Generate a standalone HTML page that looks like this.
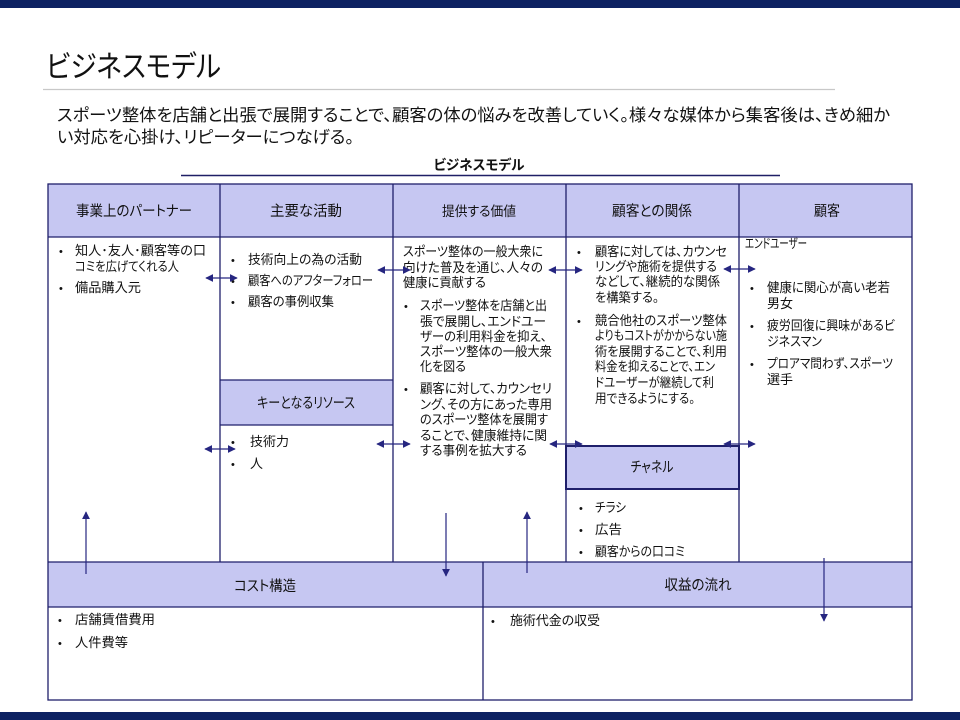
<!DOCTYPE html>
<html><head><meta charset="utf-8"><style>
html,body{margin:0;padding:0;background:#fff;}
svg{display:block;}
text{font-family:"Liberation Sans","Noto Sans CJK JP",sans-serif;fill:#111;font-feature-settings:"palt";}
.b{font-size:13px;}
.h{font-size:14.5px;}
.d{font-size:11px;}
</style></head><body>
<svg width="960" height="720" viewBox="0 0 960 720" xmlns="http://www.w3.org/2000/svg">
<defs>
<marker id="ah" viewBox="0 0 10 10" refX="9" refY="5" markerWidth="8" markerHeight="8" markerUnits="userSpaceOnUse" orient="auto-start-reverse">
<path d="M0,0 L10,5 L0,10 z" fill="#262680"/>
</marker>
</defs>
<!-- bars -->
<rect x="0" y="0" width="960" height="8" fill="#0d2262"/>
<rect x="0" y="712" width="960" height="8" fill="#0d2262"/>

<!-- title -->
<text x="46" y="77" style="font-size:30px" textLength="175" lengthAdjust="spacingAndGlyphs">ビジネスモデル</text>
<line x1="43" y1="89.5" x2="835" y2="89.5" stroke="#c8c8c8" stroke-width="1.2"/>

<text x="57" y="121" style="font-size:17px" textLength="833" lengthAdjust="spacingAndGlyphs">スポーツ整体を店舗と出張で展開することで、顧客の体の悩みを改善していく。様々な媒体から集客後は、きめ細か</text>
<text x="57" y="143" style="font-size:17px" textLength="297" lengthAdjust="spacingAndGlyphs">い対応を心掛け、リピーターにつなげる。</text>

<text x="479" y="170" text-anchor="middle" style="font-size:14px;font-weight:bold" textLength="91" lengthAdjust="spacingAndGlyphs">ビジネスモデル</text>
<line x1="181" y1="175.5" x2="780" y2="175.5" stroke="#1f1f66" stroke-width="1.4"/>

<!-- fills -->
<rect x="48" y="184" width="864" height="53" fill="#c6c7f2"/>
<rect x="220" y="380" width="173" height="45" fill="#c6c7f2"/>
<rect x="566" y="446" width="173" height="43" fill="#c6c7f2"/>
<rect x="48" y="562" width="864" height="45" fill="#c6c7f2"/>

<!-- grid lines -->
<g stroke="#1f1f6b" stroke-width="1.3" fill="none">
<rect x="48" y="184" width="864" height="516"/>
<line x1="48" y1="237" x2="912" y2="237"/>
<line x1="220" y1="184" x2="220" y2="562"/>
<line x1="393" y1="184" x2="393" y2="562"/>
<line x1="566" y1="184" x2="566" y2="562"/>
<line x1="739" y1="184" x2="739" y2="562"/>
<line x1="220" y1="380" x2="393" y2="380"/>
<line x1="220" y1="425" x2="393" y2="425"/>
<line x1="48" y1="562" x2="912" y2="562"/>
<line x1="48" y1="607" x2="912" y2="607"/>
<line x1="483" y1="562" x2="483" y2="700"/>
<rect x="566" y="446" width="173" height="43" stroke-width="2"/>
</g>

<!-- headers -->
<text class="h" x="134" y="216" text-anchor="middle" textLength="116" lengthAdjust="spacingAndGlyphs">事業上のパートナー</text>
<text class="h" x="306" y="216" text-anchor="middle" textLength="72" lengthAdjust="spacingAndGlyphs">主要な活動</text>
<text x="479" y="216" text-anchor="middle" style="font-size:13.5px" textLength="74" lengthAdjust="spacingAndGlyphs">提供する価値</text>
<text class="h" x="652" y="216" text-anchor="middle" textLength="80" lengthAdjust="spacingAndGlyphs">顧客との関係</text>
<text class="h" x="827" y="216" text-anchor="middle" textLength="26" lengthAdjust="spacingAndGlyphs">顧客</text>
<text class="h" x="306" y="408" text-anchor="middle" textLength="98" lengthAdjust="spacingAndGlyphs">キーとなるリソース</text>
<text class="h" x="652" y="472" text-anchor="middle" textLength="43" lengthAdjust="spacingAndGlyphs">チャネル</text>
<text class="h" x="265" y="591" text-anchor="middle" textLength="62" lengthAdjust="spacingAndGlyphs">コスト構造</text>
<text class="h" x="698" y="590" text-anchor="middle" textLength="67" lengthAdjust="spacingAndGlyphs">収益の流れ</text>

<!-- col1 -->
<text class="d" x="59" y="255">•</text>
<text class="b" x="75" y="255" textLength="131" lengthAdjust="spacingAndGlyphs">知人･友人･顧客等の口</text>
<text class="b" x="75" y="271" textLength="104" lengthAdjust="spacingAndGlyphs">コミを広げてくれる人</text>
<text class="d" x="59" y="292">•</text>
<text class="b" x="75" y="292" textLength="66" lengthAdjust="spacingAndGlyphs">備品購入元</text>

<!-- col2 -->
<text class="d" x="231" y="264">•</text>
<text class="b" x="248" y="264" textLength="114" lengthAdjust="spacingAndGlyphs">技術向上の為の活動</text>
<text class="d" x="231" y="285">•</text>
<text class="b" x="248" y="285" textLength="125" lengthAdjust="spacingAndGlyphs">顧客へのアフターフォロー</text>
<text class="d" x="231" y="306">•</text>
<text class="b" x="248" y="306" textLength="86" lengthAdjust="spacingAndGlyphs">顧客の事例収集</text>

<!-- key resources -->
<text class="d" x="231" y="446">•</text>
<text class="b" x="250" y="446" textLength="39" lengthAdjust="spacingAndGlyphs">技術力</text>
<text class="d" x="231" y="468">•</text>
<text class="b" x="250" y="468" textLength="13" lengthAdjust="spacingAndGlyphs">人</text>

<!-- col3 -->
<text class="b" x="403" y="256" textLength="140" lengthAdjust="spacingAndGlyphs">スポーツ整体の一般大衆に</text>
<text class="b" x="403" y="272" textLength="140" lengthAdjust="spacingAndGlyphs">向けた普及を通じ、人々の</text>
<text class="b" x="403" y="287" textLength="83" lengthAdjust="spacingAndGlyphs">健康に貢献する</text>
<text class="d" x="404" y="310">•</text>
<text class="b" x="420" y="310" textLength="127" lengthAdjust="spacingAndGlyphs">スポーツ整体を店舗と出</text>
<text class="b" x="420" y="326" textLength="126" lengthAdjust="spacingAndGlyphs">張で展開し、エンドユー</text>
<text class="b" x="420" y="341" textLength="127" lengthAdjust="spacingAndGlyphs">ザーの利用料金を抑え、</text>
<text class="b" x="420" y="356" textLength="132" lengthAdjust="spacingAndGlyphs">スポーツ整体の一般大衆</text>
<text class="b" x="420" y="371" textLength="46" lengthAdjust="spacingAndGlyphs">化を図る</text>
<text class="d" x="404" y="393">•</text>
<text class="b" x="420" y="393" textLength="132" lengthAdjust="spacingAndGlyphs">顧客に対して、カウンセリ</text>
<text class="b" x="420" y="409" textLength="132" lengthAdjust="spacingAndGlyphs">ング、その方にあった専用</text>
<text class="b" x="420" y="424" textLength="128" lengthAdjust="spacingAndGlyphs">のスポーツ整体を展開す</text>
<text class="b" x="420" y="440" textLength="127" lengthAdjust="spacingAndGlyphs">ることで、健康維持に関</text>
<text class="b" x="420" y="455" textLength="107" lengthAdjust="spacingAndGlyphs">する事例を拡大する</text>

<!-- col4 -->
<text class="d" x="577" y="256">•</text>
<text class="b" x="595" y="256" textLength="132" lengthAdjust="spacingAndGlyphs">顧客に対しては、カウンセ</text>
<text class="b" x="595" y="271" textLength="122" lengthAdjust="spacingAndGlyphs">リングや施術を提供する</text>
<text class="b" x="595" y="286" textLength="125" lengthAdjust="spacingAndGlyphs">などして、継続的な関係</text>
<text class="b" x="595" y="302" textLength="64" lengthAdjust="spacingAndGlyphs">を構築する。</text>
<text class="d" x="577" y="325">•</text>
<text class="b" x="595" y="325" textLength="132" lengthAdjust="spacingAndGlyphs">競合他社のスポーツ整体</text>
<text class="b" x="595" y="340" textLength="132" lengthAdjust="spacingAndGlyphs">よりもコストがかからない施</text>
<text class="b" x="595" y="356" textLength="132" lengthAdjust="spacingAndGlyphs">術を展開することで、利用</text>
<text class="b" x="595" y="371" textLength="120" lengthAdjust="spacingAndGlyphs">料金を抑えることで、エン</text>
<text class="b" x="595" y="387" textLength="119" lengthAdjust="spacingAndGlyphs">ドユーザーが継続して利</text>
<text class="b" x="595" y="403" textLength="100" lengthAdjust="spacingAndGlyphs">用できるようにする。</text>

<!-- channel -->
<text class="d" x="579" y="512">•</text>
<text class="b" x="595" y="512" textLength="31" lengthAdjust="spacingAndGlyphs">チラシ</text>
<text class="d" x="579" y="534">•</text>
<text class="b" x="595" y="534" textLength="27" lengthAdjust="spacingAndGlyphs">広告</text>
<text class="d" x="579" y="556">•</text>
<text class="b" x="595" y="556" textLength="90" lengthAdjust="spacingAndGlyphs">顧客からの口コミ</text>

<!-- col5 -->
<text class="b" x="745" y="248" textLength="62" lengthAdjust="spacingAndGlyphs">エンドユーザー</text>
<text class="d" x="750" y="292">•</text>
<text class="b" x="767" y="292" textLength="123" lengthAdjust="spacingAndGlyphs">健康に関心が高い老若</text>
<text class="b" x="767" y="308" textLength="26" lengthAdjust="spacingAndGlyphs">男女</text>
<text class="d" x="750" y="330">•</text>
<text class="b" x="767" y="330" textLength="128" lengthAdjust="spacingAndGlyphs">疲労回復に興味があるビ</text>
<text class="b" x="767" y="346" textLength="55" lengthAdjust="spacingAndGlyphs">ジネスマン</text>
<text class="d" x="750" y="368">•</text>
<text class="b" x="767" y="368" textLength="126" lengthAdjust="spacingAndGlyphs">プロアマ問わず、スポーツ</text>
<text class="b" x="767" y="384" textLength="26" lengthAdjust="spacingAndGlyphs">選手</text>

<!-- cost / revenue -->
<text class="d" x="58" y="624">•</text>
<text class="b" x="75" y="624" textLength="80" lengthAdjust="spacingAndGlyphs">店舗賃借費用</text>
<text class="d" x="58" y="647">•</text>
<text class="b" x="75" y="647" textLength="53" lengthAdjust="spacingAndGlyphs">人件費等</text>
<text class="d" x="491" y="625">•</text>
<text class="b" x="510" y="625" textLength="90" lengthAdjust="spacingAndGlyphs">施術代金の収受</text>

<!-- arrows -->
<g stroke="#262680" stroke-width="1.2" fill="none">
<line x1="206" y1="278" x2="237" y2="278" marker-start="url(#ah)" marker-end="url(#ah)"/>
<line x1="378" y1="270" x2="410" y2="270" marker-start="url(#ah)" marker-end="url(#ah)"/>
<line x1="549" y1="270" x2="582" y2="270" marker-start="url(#ah)" marker-end="url(#ah)"/>
<line x1="724" y1="269" x2="755" y2="269" marker-start="url(#ah)" marker-end="url(#ah)"/>
<line x1="205" y1="449" x2="235" y2="449" marker-start="url(#ah)" marker-end="url(#ah)"/>
<line x1="377" y1="444" x2="410" y2="444" marker-start="url(#ah)" marker-end="url(#ah)"/>
<line x1="550" y1="444" x2="582" y2="444" marker-start="url(#ah)" marker-end="url(#ah)"/>
<line x1="724" y1="444" x2="755" y2="444" marker-start="url(#ah)" marker-end="url(#ah)"/>
<line x1="86" y1="574" x2="86" y2="512" marker-end="url(#ah)"/>
<line x1="446" y1="513" x2="446" y2="576" marker-end="url(#ah)"/>
<line x1="527" y1="573" x2="527" y2="512" marker-end="url(#ah)"/>
<line x1="824" y1="558" x2="824" y2="621" marker-end="url(#ah)"/>
</g>
</svg>
</body></html>
